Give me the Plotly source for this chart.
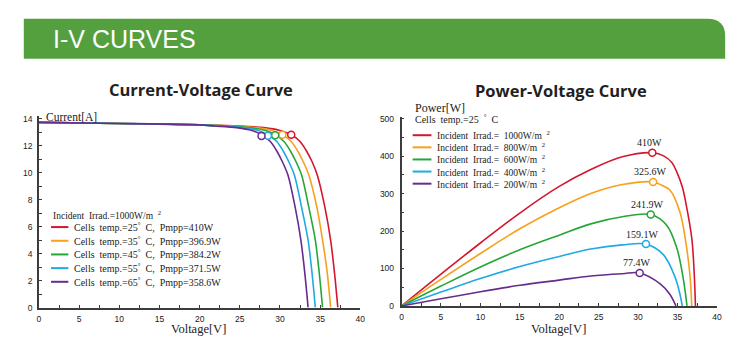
import plotly.graph_objects as go

# ---------------- data ----------------
series_colors = ["#d3172e", "#f8a01b", "#27a638", "#1eaae3", "#672c8e"]

# I-V curves (Incident Irrad. = 1000 W/m2), current levels shared by all temps
iv_current = [13.72, 13.64, 13.53, 13.45, 13.33, 13.12, 12.8, 12.3, 11.6, 10.8, 9.8, 7.4, 5.0, 2.5, 0.0]
iv_voltage_25 = [0, 10, 20, 25.0, 28.0, 30.0, 31.4, 32.5, 33.3, 34.0, 34.65, 35.6, 36.3, 36.8, 37.2]
iv_voltage_35 = [0, 10, 20, 24.2, 27.1, 29.0, 30.3, 31.4, 32.2, 32.9, 33.6, 34.6, 35.3, 35.9, 36.3]
iv_voltage_45 = [0, 10, 20, 23.4, 26.2, 28.2, 29.4, 30.5, 31.3, 32.0, 32.7, 33.6, 34.4, 34.9, 35.3]
iv_voltage_55 = [0, 10, 20, 22.6, 25.4, 27.3, 28.5, 29.6, 30.4, 31.1, 31.8, 32.7, 33.5, 34.0, 34.4]
iv_voltage_65 = [0, 10, 20, 21.8, 24.6, 26.5, 27.7, 28.8, 29.6, 30.3, 31.0, 31.9, 32.6, 33.1, 33.5]
iv_mpp_voltage = [31.4, 30.3, 29.4, 28.5, 27.7]
iv_mpp_current = [12.8, 12.8, 12.77, 12.72, 12.7]
iv_legend_labels = [
    "Cells  temp.=25<sup>°</sup>  C,  Pmpp=410W",
    "Cells  temp.=35<sup>°</sup>  C,  Pmpp=396.9W",
    "Cells  temp.=45<sup>°</sup>  C,  Pmpp=384.2W",
    "Cells  temp.=55<sup>°</sup>  C,  Pmpp=371.5W",
    "Cells  temp.=65<sup>°</sup>  C,  Pmpp=358.6W",
]

# P-V curves (Cells temp. = 25 C)
pv_voltage_1000 = [0, 5, 10, 15, 20, 24, 28, 31.8, 33.3, 34.3, 34.9, 35.6, 36.1, 36.8, 37.1, 37.27]
pv_power_1000 = [0, 85, 168, 248, 319, 364, 398, 409, 400, 382, 358, 318, 270, 182, 94, 0]
pv_voltage_800 = [0, 5, 10, 15, 20, 24, 28, 31.9, 33.0, 34.0, 35.3, 36.1, 36.6, 36.8]
pv_power_800 = [0, 71, 140, 206, 262, 300, 324, 331, 322, 310, 251, 163, 76, 0]
pv_voltage_600 = [0, 5, 10, 15, 20, 24, 28, 31.6, 33.6, 34.9, 35.7, 36.2]
pv_power_600 = [0, 53, 104, 150, 189, 219, 238, 244, 216, 155, 76, 0]
pv_voltage_400 = [0, 5, 10, 15, 20, 24, 28, 31.0, 33.2, 34.7, 35.3, 35.6]
pv_power_400 = [0, 37, 73, 105, 132, 152, 163, 165, 137, 76, 32, 0]
pv_voltage_200 = [0, 5, 10, 15, 20, 24, 28, 30.2, 32.8, 34.0, 34.8]
pv_power_200 = [0, 19, 38, 55, 69, 80, 86, 88, 59, 32, 0]
pv_mpp_voltage = [31.8, 31.9, 31.6, 31.0, 30.2]
pv_mpp_power = [409, 331, 244, 165, 88]
pv_mpp_labels = ["410W", "325.6W", "241.9W", "159.1W", "77.4W"]
pv_legend_labels = [
    "Incident  Irrad.=  1000W/m  <sup>2</sup>",
    "Incident  Irrad.=  800W/m  <sup>2</sup>",
    "Incident  Irrad.=  600W/m  <sup>2</sup>",
    "Incident  Irrad.=  400W/m  <sup>2</sup>",
    "Incident  Irrad.=  200W/m  <sup>2</sup>",
]

x_ticks = [0, 5, 10, 15, 20, 25, 30, 35, 40]
iv_y_ticks = [0, 2, 4, 6, 8, 10, 12, 14]
pv_y_ticks = [0, 100, 200, 300, 400, 500]

# ---------------- layout helpers ----------------
W, H = 750, 351


def px(x):
    return x / W


def py(y):
    return 1 - y / H


SERIF = "Liberation Serif"
SANS = "Liberation Sans"
AXIS_COLOR = "#3c3c3c"

fig = go.Figure()

iv_voltages = [iv_voltage_25, iv_voltage_35, iv_voltage_45, iv_voltage_55, iv_voltage_65]
for i, v in enumerate(iv_voltages):
    fig.add_trace(go.Scatter(
        x=v, y=iv_current, mode="lines", xaxis="x", yaxis="y",
        line=dict(color=series_colors[i], width=1.6, shape="spline", smoothing=0.8),
        showlegend=False, hoverinfo="skip"))
for i in range(5):
    fig.add_trace(go.Scatter(
        x=[iv_mpp_voltage[i]], y=[iv_mpp_current[i]], mode="markers", xaxis="x", yaxis="y",
        marker=dict(size=7, color="white", line=dict(color=series_colors[i], width=1.5)),
        showlegend=False, hoverinfo="skip"))

pv_series = [
    (pv_voltage_1000, pv_power_1000),
    (pv_voltage_800, pv_power_800),
    (pv_voltage_600, pv_power_600),
    (pv_voltage_400, pv_power_400),
    (pv_voltage_200, pv_power_200),
]
for i, (v, p) in enumerate(pv_series):
    fig.add_trace(go.Scatter(
        x=v, y=p, mode="lines", xaxis="x2", yaxis="y2",
        line=dict(color=series_colors[i], width=1.6, shape="spline", smoothing=1.0),
        showlegend=False, hoverinfo="skip"))
for i in range(5):
    fig.add_trace(go.Scatter(
        x=[pv_mpp_voltage[i]], y=[pv_mpp_power[i]], mode="markers", xaxis="x2", yaxis="y2",
        marker=dict(size=7, color="white", line=dict(color=series_colors[i], width=1.5)),
        showlegend=False, hoverinfo="skip"))

axis_common = dict(
    showline=True, linecolor=AXIS_COLOR, linewidth=1.5, showgrid=False, zeroline=False,
    ticks="inside", ticklen=3, tickcolor=AXIS_COLOR, tickwidth=1,
    tickfont=dict(family=SANS, size=8.5, color="#222"),
    fixedrange=True,
)

fig.update_layout(
    width=W, height=H, autosize=False,
    margin=dict(l=0, r=0, t=0, b=0),
    paper_bgcolor="white", plot_bgcolor="white",
    xaxis=dict(domain=[px(37.3), px(361.7)], range=[0, 40], anchor="y",
               tickvals=x_ticks, ticklabelstandoff=2,
               minor=dict(dtick=2.5, ticks="inside", ticklen=3, tickcolor=AXIS_COLOR),
               **axis_common),
    yaxis=dict(domain=[py(311.7), py(115.5)], range=[0, 14.2], anchor="x",
               tickvals=iv_y_ticks, ticklabelstandoff=3,
               minor=dict(dtick=1, ticks="inside", ticklen=3, tickcolor=AXIS_COLOR),
               **axis_common),
    xaxis2=dict(domain=[px(403.3), px(721.7)], range=[0, 40], anchor="y2",
                tickvals=x_ticks, ticklabelstandoff=2,
                minor=dict(dtick=2.5, ticks="inside", ticklen=3, tickcolor=AXIS_COLOR),
                **axis_common),
    yaxis2=dict(domain=[py(310), py(116.4)], range=[0, 505], anchor="x2",
                tickvals=pv_y_ticks, ticklabelstandoff=4,
                minor=dict(dtick=50, ticks="inside", ticklen=3, tickcolor=AXIS_COLOR),
                **axis_common),
)

shapes = []
annotations = []

# header bar with rounded top-right corner
x0, x1, y0, y1, r = 22, 730, 16, 57, 18
shapes.append(dict(
    type="path", xref="paper", yref="paper",
    path=(f"M {px(x0)},{py(y0)} L {px(x1 - r)},{py(y0)} "
          f"Q {px(x1)},{py(y0)} {px(x1)},{py(y0 + r)} "
          f"L {px(x1)},{py(y1)} L {px(x0)},{py(y1)} Z"),
    fillcolor="#54a03f", line=dict(width=0), layer="below"))
annotations.append(dict(
    text="I-V CURVES", x=px(49), y=py(37), xref="paper", yref="paper",
    xanchor="left", yanchor="middle", showarrow=False,
    font=dict(family=SANS, size=25, color="white")))

# chart titles
annotations.append(dict(
    text="<b>Current-Voltage Curve</b>", x=px(200.5), y=py(89), xref="paper", yref="paper",
    xanchor="center", yanchor="middle", showarrow=False,
    font=dict(family="Open Sans", size=16.5, color="#231f20")))
annotations.append(dict(
    text="<b>Power-Voltage Curve</b>", x=px(564), y=py(90), xref="paper", yref="paper",
    xanchor="center", yanchor="middle", showarrow=False,
    font=dict(family="Open Sans", size=16.5, color="#231f20")))

# axis titles
for cx, cy in [(198, 334), (562, 334)]:
    annotations.append(dict(
        text="Voltage[V]", x=px(cx), y=py(cy), xref="paper", yref="paper",
        xanchor="center", yanchor="middle", showarrow=False, borderpad=0,
        font=dict(family=SERIF, size=12.5, color="#222")))
annotations.append(dict(
    text="Current[A]", x=px(42), y=py(117), xref="paper", yref="paper",
    xanchor="left", yanchor="middle", showarrow=False,
    font=dict(family=SERIF, size=11.5, color="#222")))
annotations.append(dict(
    text="Power[W]", x=px(415), y=py(107.5), xref="paper", yref="paper",
    xanchor="left", yanchor="middle", showarrow=False,
    font=dict(family=SERIF, size=12, color="#222")))

# left legend
annotations.append(dict(
    text="Incident  Irrad.=1000W/m  <sup>2</sup>", x=px(49), y=py(216.5), xref="paper", yref="paper",
    xanchor="left", yanchor="middle", showarrow=False,
    font=dict(family=SERIF, size=9.5, color="#222")))
for i in range(5):
    yy = 229.3 + 14 * i
    shapes.append(dict(type="line", xref="paper", yref="paper",
                       x0=px(49.5), x1=px(67), y0=py(yy), y1=py(yy),
                       line=dict(color=series_colors[i], width=2)))
    annotations.append(dict(
        text=iv_legend_labels[i], x=px(71), y=py(yy), xref="paper", yref="paper",
        xanchor="left", yanchor="middle", showarrow=False,
        font=dict(family=SERIF, size=10, color="#222")))

# right legend
annotations.append(dict(
    text="Cells  temp.=25  <sup>°</sup>  C", x=px(415), y=py(118.5), xref="paper", yref="paper",
    xanchor="left", yanchor="middle", showarrow=False,
    font=dict(family=SERIF, size=10, color="#222")))
for i in range(5):
    yy = 135.3 + 12.4 * i
    shapes.append(dict(type="line", xref="paper", yref="paper",
                       x0=px(414.5), x1=px(433.5), y0=py(yy), y1=py(yy),
                       line=dict(color=series_colors[i], width=2)))
    annotations.append(dict(
        text=pv_legend_labels[i], x=px(437.5), y=py(yy), xref="paper", yref="paper",
        xanchor="left", yanchor="middle", showarrow=False,
        font=dict(family=SERIF, size=9.5, color="#222")))

# MPP labels on P-V chart
for i in range(5):
    annotations.append(dict(
        text=pv_mpp_labels[i], x=pv_mpp_voltage[i], y=pv_mpp_power[i], xref="x2", yref="y2",
        xanchor="center", yanchor="middle", yshift=10, xshift=-3, showarrow=False,
        font=dict(family=SERIF, size=10, color="#222")))

fig.update_layout(shapes=shapes, annotations=annotations)
fig.write_html("out.html")
